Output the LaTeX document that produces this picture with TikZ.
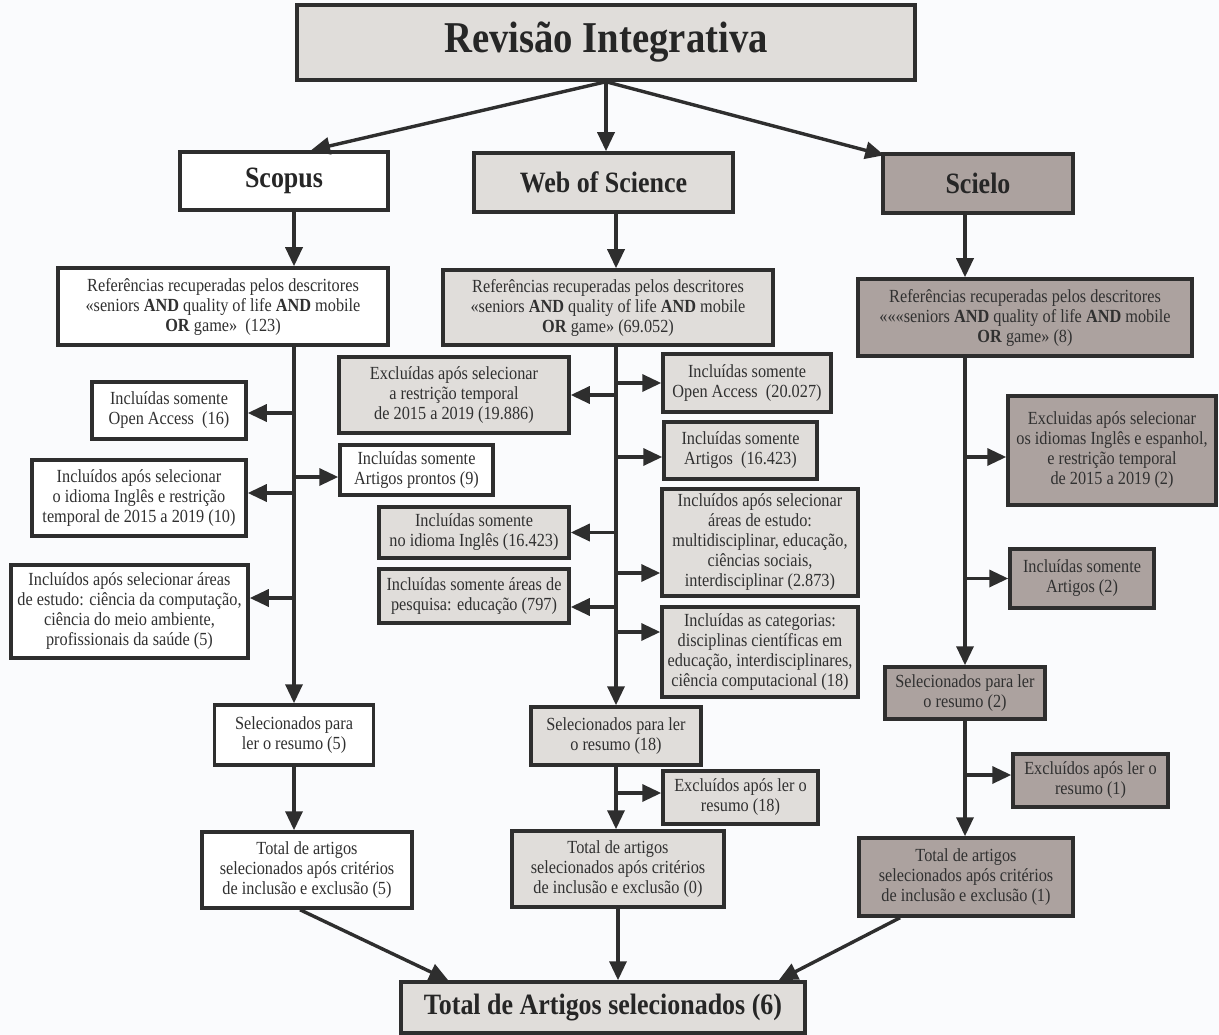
\documentclass[tikz,border=0pt]{standalone}
\usepackage{fontspec}
\setmainfont{Liberation Serif}[FakeStretch=0.88]
\usetikzlibrary{arrows.meta}
\definecolor{cinzaclaro}{HTML}{E0DDDA}
\definecolor{cinzaescuro}{HTML}{ACA29F}
\definecolor{linha}{HTML}{2E2E2E}
\definecolor{fundo}{HTML}{FAFBFD}
\definecolor{texto}{HTML}{303030}

\begin{document}
\begin{tikzpicture}[x=1pt,y=-1pt,
		caixa/.style={draw=linha,line width=3.5pt,align=center,inner sep=0pt,text=texto,font=\fontsize{18.5}{20}\selectfont},
		branca/.style={caixa,fill=white},
		clara/.style={caixa,fill=cinzaclaro},
		escura/.style={caixa,fill=cinzaescuro},
		titulo/.style={font=\fontsize{29.5}{32}\selectfont\bfseries,text=black!85},
		dim/.style 2 args={minimum width=#1pt,minimum height=#2pt},
		seta/.style={draw=linha,line width=3.4pt,-{Triangle[length=19pt,width=17pt]}}]
			\useasboundingbox (0,0) rectangle (1219,1035);
			\fill[fundo] (0,0) rectangle (1219,1035);

			\node[clara,dim={618}{75},font=\fontsize{44}{46}\selectfont\bfseries,text=black!85] (rev) at (606,42.5) {Revisão Integrativa};
			\node[branca,titulo,dim={208}{58}] (scopus) at (284,181) {Scopus};
			\node[clara,titulo,dim={259}{59}] (wos) at (603.5,182.5) {Web of Science};
			\node[escura,titulo,dim={190}{59}] (scielo) at (978,183.5) {Scielo};

			\node[branca,dim={330}{77}] (scRef) at (223,306.5) {Referências recuperadas pelos descritores\\«seniors \textbf{AND} quality of life \textbf{AND} mobile\\\textbf{OR} game»~ (123)};
			\node[branca,dim={154}{57}] (scOA) at (169,410.5) {Incluídas somente\\Open Access~ (16)};
			\node[branca,dim={153}{50}] (scArt) at (416.5,470) {Incluídas somente\\Artigos prontos (9)};
			\node[branca,dim={214}{76}] (scLang) at (139,498) {Incluídos após selecionar\\o idioma Inglês e restrição\\temporal de 2015 a 2019 (10)};
			\node[branca,dim={237}{93}] (scArea) at (129.5,611.5) {Incluídos após selecionar áreas\\de estudo: ciência da computação,\\ciência do meio ambiente,\\profissionais da saúde (5)};
			\node[branca,dim={159}{60}] (scSel) at (294,735) {Selecionados para\\ler o resumo (5)};
			\node[branca,dim={210}{76}] (scTot) at (307,870) {Total de artigos\\selecionados após critérios\\de inclusão e exclusão (5)};

			\node[clara,dim={330}{75}] (wosRef) at (608,307.5) {Referências recuperadas pelos descritores\\«seniors \textbf{AND} quality of life \textbf{AND} mobile\\\textbf{OR} game» (69.052)};
			\node[clara,dim={230}{76}] (wosExcl) at (454,395) {Excluídas após selecionar\\a restrição temporal\\de 2015 a 2019 (19.886)};
			\node[clara,dim={190}{51}] (wosLang) at (474,532.5) {Incluídas somente\\no idioma Inglês (16.423)};
			\node[clara,dim={190}{54}] (wosArea) at (474,596) {Incluídas somente áreas de\\pesquisa: educação (797)};
			\node[clara,dim={168}{58}] (wosOA) at (747,383) {Incluídas somente\\Open Access~ (20.027)};
			\node[clara,dim={153}{57}] (wosArt) at (740.5,450.5) {Incluídas somente\\Artigos~ (16.423)};
			\node[clara,dim={196}{107}] (wosArea2) at (760,542.5) {Incluídos após selecionar\\áreas de estudo:\\multidisciplinar, educação,\\ciências sociais,\\interdisciplinar (2.873)};
			\node[clara,dim={196}{90}] (wosCat) at (760,652) {Incluídas as categorias:\\disciplinas científicas em\\educação, interdisciplinares,\\ciência computacional (18)};
			\node[clara,dim={170}{58}] (wosSel) at (616,736) {Selecionados para ler\\o resumo (18)};
			\node[clara,dim={155}{53}] (wosExc2) at (740.5,797.5) {Excluídos após ler o\\resumo (18)};
			\node[clara,dim={212}{76}] (wosTot) at (618,869) {Total de artigos\\selecionados após critérios\\de inclusão e exclusão (0)};

			\node[escura,dim={334}{77}] (sciRef) at (1025,317.5) {Referências recuperadas pelos descritores\\«««seniors \textbf{AND} quality of life \textbf{AND} mobile\\\textbf{OR} game» (8)};
			\node[escura,dim={208}{109}] (sciExcl) at (1112,450.5) {Excluidas após selecionar\\os idiomas Inglês e espanhol,\\e restrição temporal\\de 2015 a 2019 (2)};
			\node[escura,dim={144}{59}] (sciArt) at (1082,578.5) {Incluídas somente\\Artigos (2)};
			\node[escura,dim={160}{52}] (sciSel) at (965,693) {Selecionados para ler\\o resumo (2)};
			\node[escura,dim={155}{53}] (sciExc2) at (1090.5,780.5) {Excluídos após ler o\\resumo (1)};
			\node[escura,dim={214}{78}] (sciTot) at (966,877) {Total de artigos\\selecionados após critérios\\de inclusão e exclusão (1)};

			\node[clara,dim={404}{51},titulo] (final) at (603,1007.5) {Total de Artigos selecionados (6)};

			\draw[seta] (rev.south) -- ([xshift=27pt]scopus.north);
			\draw[seta] (rev.south) -- (rev.south |- wos.north);
			\draw[seta] (rev.south) -- ([xshift=3pt,yshift=-3pt]scielo.north west);

			\draw[seta] (scopus.south -| scSel) -- (scRef.north -| scSel);
			\draw[seta] (scRef.south -| scSel) -- (scSel.north);
			\draw[seta] ([yshift=-2.5pt]scOA.east -| scSel) -- ([yshift=-2.5pt]scOA.east);
			\draw[seta] ([yshift=-7pt]scArt.west -| scSel) -- ([yshift=-7pt]scArt.west);
			\draw[seta] ([yshift=5pt]scLang.east -| scSel) -- ([yshift=5pt]scLang.east);
			\draw[seta] ([yshift=13.5pt]scArea.east -| scSel) -- ([yshift=13.5pt]scArea.east);
			\draw[seta] (scSel.south) -- (scSel.south |- scTot.north);

			\draw[seta] (wos.south -| wosSel) -- (wosRef.north -| wosSel);
			\draw[seta] (wosRef.south -| wosSel) -- (wosSel.north);
			\draw[seta] (wosExcl.east -| wosSel) -- (wosExcl.east);
			\draw[seta] (wosLang.east -| wosSel) -- (wosLang.east);
			\draw[seta] ([yshift=-11pt]wosArea.east -| wosSel) -- ([yshift=-11pt]wosArea.east);
			\draw[seta] (wosOA.west -| wosSel) -- (wosOA.west);
			\draw[seta] ([yshift=-6.5pt]wosArt.west -| wosSel) -- ([yshift=-6.5pt]wosArt.west);
			\draw[seta] ([yshift=-30.5pt]wosArea2.west -| wosSel) -- ([yshift=-30.5pt]wosArea2.west);
			\draw[seta] ([yshift=20pt]wosCat.west -| wosSel) -- ([yshift=20pt]wosCat.west);
			\draw[seta] (wosSel.south) -- (wosSel.south |- wosTot.north);
			\draw[seta] ([yshift=4.5pt]wosExc2.west -| wosSel) -- ([yshift=4.5pt]wosExc2.west);

			\draw[seta] (scielo.south -| sciSel) -- (sciRef.north -| sciSel);
			\draw[seta] (sciRef.south -| sciSel) -- (sciSel.north);
			\draw[seta] ([yshift=-6.5pt]sciExcl.west -| sciSel) -- ([yshift=-6.5pt]sciExcl.west);
			\draw[seta] (sciArt.west -| sciSel) -- (sciArt.west);
			\draw[seta] (sciSel.south) -- (sciSel.south |- sciTot.north);
			\draw[seta] ([yshift=5.5pt]sciExc2.west -| sciSel) -- ([yshift=5.5pt]sciExc2.west);

			\draw[seta] ([xshift=-7pt]scTot.south) -- ([xshift=49pt]final.north west);
			\draw[seta] (wosTot.south) -- (wosTot.south |- final.north);
			\draw[seta] ([xshift=-66pt]sciTot.south) -- ([xshift=-28pt]final.north east);
		\end{tikzpicture}
\end{document}
